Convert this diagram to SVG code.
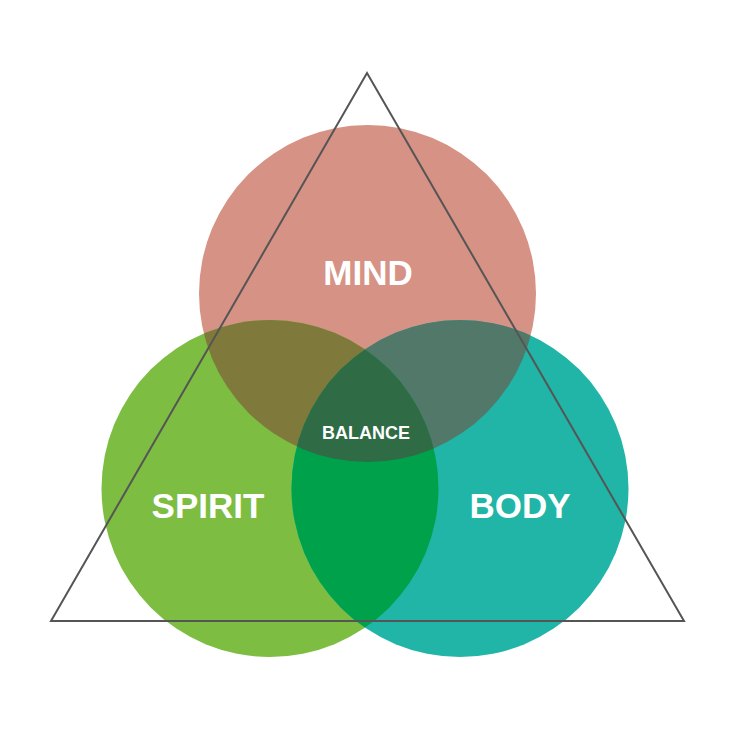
<svg xmlns="http://www.w3.org/2000/svg" width="730" height="730" viewBox="0 0 730 730">
<style>
text{font-family:"Liberation Sans",Arial,sans-serif;font-weight:bold;fill:#fff;text-anchor:middle}
.big{font-size:35px}
.small{font-size:18px}
</style>
<defs>
<clipPath id="cm"><circle cx="367.5" cy="293.5" r="168.5"/></clipPath>
<clipPath id="cs"><circle cx="270" cy="488.5" r="168.5"/></clipPath>
<clipPath id="cb"><circle cx="460" cy="488.5" r="168.5"/></clipPath>
</defs>
<rect width="730" height="730" fill="#fff"/>
<g id="mind"><circle cx="367.5" cy="293.5" r="168.5" fill="#D69284"/></g>
<g id="spirit"><circle cx="270" cy="488.5" r="168.5" fill="#7DBD42"/></g>
<g id="body"><circle cx="460" cy="488.5" r="168.5" fill="#20B5A7"/></g>
<g id="overlaps">
<g clip-path="url(#cm)"><circle cx="270" cy="488.5" r="168.5" fill="#7F7A3C"/><circle cx="460" cy="488.5" r="168.5" fill="#52786A"/></g>
<g clip-path="url(#cs)"><circle cx="460" cy="488.5" r="168.5" fill="#00A14B"/></g>
<g clip-path="url(#cm)"><g clip-path="url(#cs)"><circle cx="460" cy="488.5" r="168.5" fill="#2F6B45"/></g></g>
</g>
<g id="connectors"><polygon points="367,73 51,621 684,621" fill="none" stroke="#555" stroke-width="2"/></g>
<g id="labels">
<text class="big" x="368" y="285">MIND</text>
<text class="big" x="208" y="518">SPIRIT</text>
<text class="big" x="520" y="518">BODY</text>
<text class="small" x="366" y="439">BALANCE</text>
</g>
</svg>
